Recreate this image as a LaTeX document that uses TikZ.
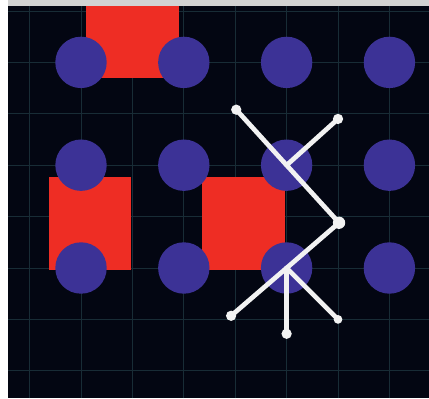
\documentclass[tikz,border=0pt]{standalone}
\definecolor{board}{RGB}{3,6,18}
\definecolor{gridline}{RGB}{24,44,54}
\definecolor{padred}{RGB}{238,45,36}
\definecolor{pinblue}{RGB}{60,50,150}
\definecolor{wirewhite}{RGB}{242,242,242}
\begin{document}
\begin{tikzpicture}[
    pin/.style={circle,fill=pinblue,minimum size=1cm,inner sep=0pt},
    wire/.style={wirewhite,line width=2.6pt,line cap=round,line join=round},
    grid line/.style={gridline,line width=0.5pt}]
  \useasboundingbox (-1.576,-2.53) rectangle (6.77,5.214);
  % frame and board
  \fill[white] (-1.576,-2.53) rectangle (6.77,5.214);
  \fill[gray!35] (-1.42,5.1) rectangle (6.77,5.214);
  \fill[board] (-1.42,-2.53) rectangle (6.77,5.1);
  \foreach \x in {-1,...,6}
    \draw[grid line] (\x,-2.53) -- (\x,5.1);
  \foreach \y in {-2,...,5}
    \draw[grid line] (-1.42,\y) -- (6.77,\y);
  % pads
  \fill[padred] (0.1,3.7) rectangle (1.9,5.1);
  \fill[padred] (-0.62,-0.04) rectangle (0.97,1.77);
  \fill[padred] (2.35,-0.04) rectangle (3.97,1.77);
  % pins
  \foreach \c in {0,...,3}
    \foreach \r in {0,1,2}
      \node[pin] (p\c\r) at (2*\c,2*\r) {};
  % wire ends
  \coordinate (a) at (3.02,3.08);
  \coordinate (b) at (5.0,2.9);
  \coordinate (d) at (5.02,0.88);
  \coordinate (f) at (2.92,-0.93);
  \coordinate (g) at (4,-1.28);
  \coordinate (h) at (5.0,-1.0);
  \draw[wire] (a) -- (p21.center) -- (d) -- (p20.center) -- (f);
  \draw[wire] (b) -- (p21.center);
  \draw[wire] (p20.center) -- (g);
  \draw[wire] (p20.center) -- (h);
  \foreach \p/\s in {a/0.1,b/0.1,d/0.12,f/0.1,g/0.1,h/0.085}
    \fill[wirewhite] (\p) circle (\s);
\end{tikzpicture}
\end{document}
